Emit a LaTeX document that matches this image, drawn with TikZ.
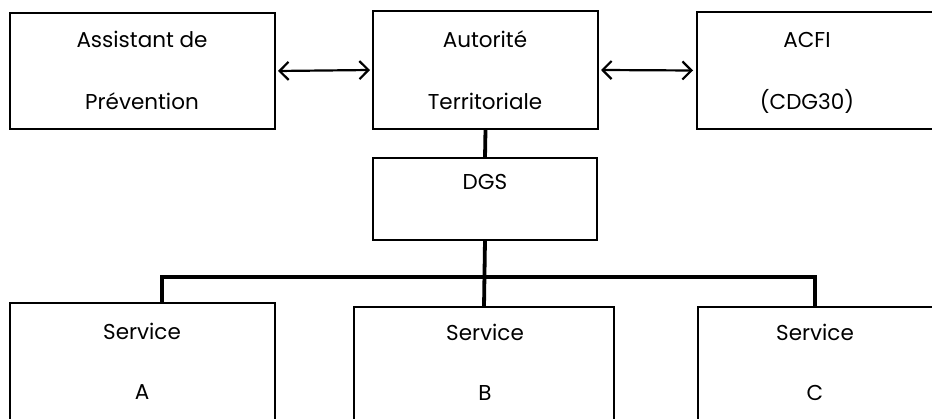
\documentclass[tikz,border=0pt]{standalone}
\usepackage{fontspec}
\setmainfont{Poppins}
\usetikzlibrary{arrows.meta}
\begin{document}
\begin{tikzpicture}[x=1pt,y=-1pt,
  box/.style={draw=black, line width=1.8pt, inner sep=0pt, outer sep=0pt, fill=white},
  txt/.style={anchor=base, inner sep=0pt, font=\fontsize{21.5}{24}\selectfont},
  link/.style={line width=2.2pt, {Straight Barb[length=9pt,width=18pt,line width=2.2pt]}-{Straight Barb[length=9pt,width=18pt,line width=2.2pt]}},
  stem/.style={line width=3.8pt}]
\path[use as bounding box, clip] (0,0) rectangle (932,419);
% top row
\node[box, minimum width=265pt, minimum height=116pt] (asst) at (142.5,71) {};
\node[box, minimum width=225pt, minimum height=118pt] (auto) at (485.5,70) {};
\node[box, minimum width=250pt, minimum height=117pt] (acfi) at (822,70.5) {};
\node[txt] (t1) at (142,48) {Assistant de};
\node[txt] (t2) at (142,110) {Prévention};
\node[txt] (t3) at (485,48) {Autorité};
\node[txt] (t4) at (485,110) {Territoriale};
\node[txt] (t5) at (807,48) {ACFI};
\node[txt] (t6) at (807,110) {(CDG30)};
\draw[link] ([xshift=3pt]asst.east) -- ([xshift=-3pt]auto.west);
\draw[link] ([xshift=3pt]auto.east) -- ([xshift=-4pt]acfi.west);
% DGS
\node[box, minimum width=224pt, minimum height=82pt] (dgs) at (485,199) {};
\node[txt] (t7) at (485,190) {DGS};
% bottom row
\node[box, minimum width=265pt, minimum height=140pt] (sa) at (142.5,373) {};
\node[box, minimum width=260pt, minimum height=140pt] (sb) at (484,377) {};
\node[box, minimum width=250pt, minimum height=140pt] (sc) at (823,377) {};
\node[txt] (t8) at (142,340) {Service};
\node[txt] (t9) at (142,400) {A};
\node[txt] (t10) at (485,341) {Service};
\node[txt] (t11) at (485,401) {B};
\node[txt] (t12) at (815,341) {Service};
\node[txt] (t13) at (815,401) {C};
% connectors
\draw[stem] (auto.south) -- (dgs.north);
\draw[stem] (dgs.south) -- (sb.north);
\coordinate (ja) at (162,277);
\coordinate (jc) at (815,277);
\draw[stem] ([xshift=-1.9pt]ja) -- ([xshift=1.9pt]jc);
\draw[stem] (ja) -- (ja |- sa.north);
\draw[stem] (jc) -- (jc |- sc.north);
\end{tikzpicture}
\end{document}
